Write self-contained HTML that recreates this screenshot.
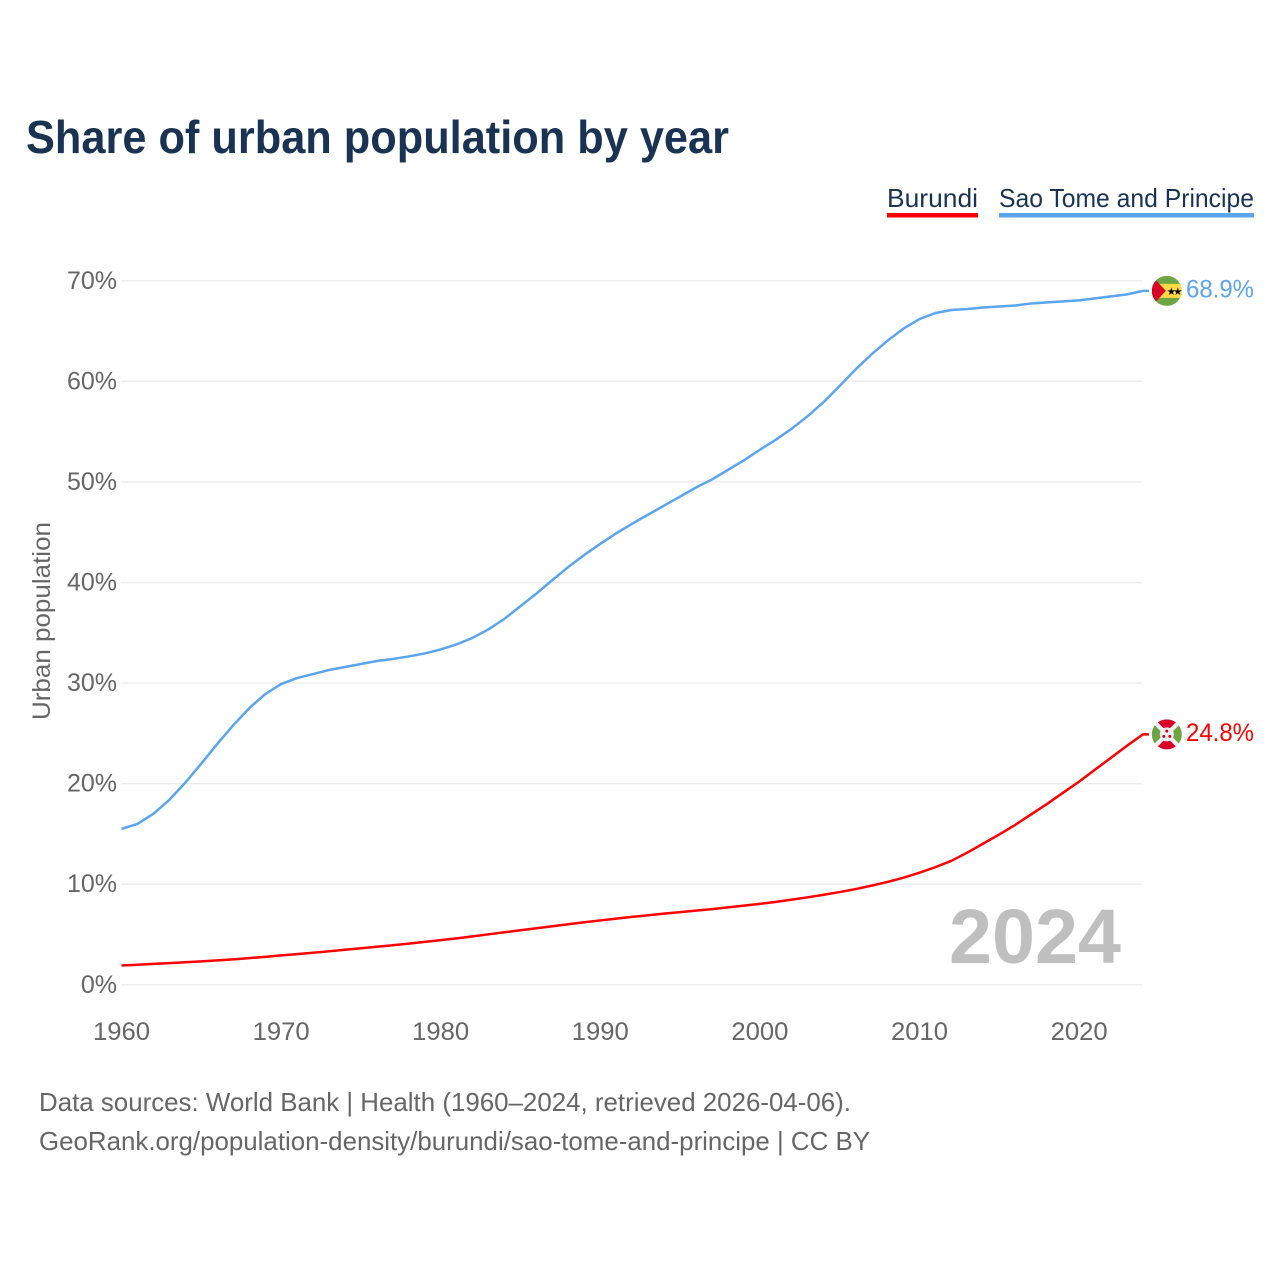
<!DOCTYPE html>
<html lang="en">
<head>
<meta charset="utf-8">
<title>Share of urban population by year</title>
<style>
html,body{margin:0;padding:0;background:#fff;width:1280px;height:1280px;overflow:hidden}
svg{display:block;font-family:"Liberation Sans",sans-serif}
</style>
</head>
<body>
<svg id="chart" xmlns="http://www.w3.org/2000/svg" width="1280" height="1280" viewBox="0 0 1280 1280">
  <rect x="0" y="0" width="1280" height="1280" fill="#ffffff"/>
  <text x="26" y="153" font-size="46" font-weight="700" fill="#1a3352" textLength="703" lengthAdjust="spacingAndGlyphs">Share of urban population by year</text>

  <g>
    <g>
      <text x="887" y="207" font-size="26" fill="#1a3352" textLength="91" lengthAdjust="spacingAndGlyphs">Burundi</text>
      <rect x="887" y="213" width="91" height="4.5" fill="#ff0000"/>
    </g>
    <g>
      <text x="999" y="207" font-size="26" fill="#1a3352" textLength="255" lengthAdjust="spacingAndGlyphs">Sao Tome and Principe</text>
      <rect x="999" y="213" width="255" height="4.5" fill="#5ba4ee"/>
    </g>
  </g>

  <text transform="translate(50 621) rotate(-90)" text-anchor="middle" font-size="25" fill="#666666" textLength="198" lengthAdjust="spacingAndGlyphs">Urban population</text>

  <g id="grid"></g>
  <g id="y-ticks"></g>
  <g id="x-ticks"></g>

  <text x="1121" y="963" text-anchor="end" font-size="77" font-weight="700" fill="#bfbfbf" textLength="172" lengthAdjust="spacingAndGlyphs">2024</text>

  <g id="series"></g>

  <defs>
    <clipPath id="flag-clip"><circle cx="0" cy="0" r="15"/></clipPath>
  </defs>

  <g id="flag-stp">
    <g clip-path="url(#flag-clip)">
      <rect x="-15" y="-15" width="30" height="30" fill="#6da544"/>
      <rect x="-15" y="-7" width="30" height="14" fill="#ffda44"/>
      <polygon points="-15,-15 -1,0 -15,15" fill="#d80027"/>
      <text x="4.5" y="4.2" text-anchor="middle" font-size="10.5" fill="#000000" font-family="'DejaVu Sans',sans-serif">★</text>
      <text x="11" y="4.2" text-anchor="middle" font-size="10.5" fill="#000000" font-family="'DejaVu Sans',sans-serif">★</text>
    </g>
  </g>

  <g id="flag-bdi">
    <g clip-path="url(#flag-clip)">
      <rect x="-15" y="-15" width="30" height="30" fill="#f0f0f0"/>
      <polygon points="-14,-17 14,-17 0,-3" fill="#d80027"/>
      <polygon points="-14,17 14,17 0,3" fill="#d80027"/>
      <polygon points="-17,-14 -17,14 -3,0" fill="#6da544"/>
      <polygon points="17,-14 17,14 3,0" fill="#6da544"/>
      <circle cx="0" cy="0" r="7" fill="#f0f0f0"/>
      <circle cx="0" cy="-3.3" r="1.5" fill="#d80027"/>
      <circle cx="-3" cy="2" r="1.5" fill="#d80027"/>
      <circle cx="3" cy="2" r="1.5" fill="#d80027"/>
    </g>
  </g>

  <g id="value-labels"></g>

  <g>
    <text x="39" y="1111" font-size="26" fill="#666666" textLength="812" lengthAdjust="spacingAndGlyphs">Data sources: World Bank | Health (1960–2024, retrieved 2026-04-06).</text>
    <text x="39" y="1150" font-size="26" fill="#666666" textLength="831" lengthAdjust="spacingAndGlyphs">GeoRank.org/population-density/burundi/sao-tome-and-principe | CC BY</text>
  </g>
</svg>

<script>
var startYear = 1960;
var endYear = 2024;
var yTickValues = [0, 10, 20, 30, 40, 50, 60, 70];
var yTickLabels = ["0%", "10%", "20%", "30%", "40%", "50%", "60%", "70%"];
var xTickValues = [1960, 1970, 1980, 1990, 2000, 2010, 2020];
var xTickLabels = ["1960", "1970", "1980", "1990", "2000", "2010", "2020"];
var saoTomeValues = [15.5, 16.0, 17.0, 18.4, 20.1, 22.0, 23.95, 25.8, 27.5, 28.9,
  29.9, 30.5, 30.9, 31.3, 31.6, 31.9, 32.2, 32.4, 32.65, 32.95,
  33.35, 33.85, 34.5, 35.35, 36.4, 37.65, 38.9, 40.25, 41.55, 42.75,
  43.85, 44.9, 45.85, 46.75, 47.65, 48.55, 49.45, 50.25, 51.2, 52.15,
  53.2, 54.2, 55.3, 56.55, 57.95, 59.55, 61.2, 62.7, 64.05, 65.25,
  66.2, 66.8, 67.1, 67.2, 67.35, 67.45, 67.55, 67.75, 67.85, 67.95,
  68.05, 68.25, 68.45, 68.65, 69.0];
var burundiValues = [1.92, 2.0, 2.08, 2.16, 2.24, 2.33, 2.43, 2.53, 2.65, 2.78,
  2.92, 3.05, 3.19, 3.33, 3.48, 3.63, 3.78, 3.93, 4.1, 4.27,
  4.44, 4.62, 4.82, 5.02, 5.22, 5.42, 5.62, 5.82, 6.02, 6.22,
  6.4, 6.58, 6.75, 6.92, 7.08, 7.23, 7.38, 7.53, 7.7, 7.87,
  8.05, 8.25, 8.47, 8.7, 8.95, 9.22, 9.52, 9.86, 10.23, 10.65,
  11.15, 11.7, 12.33, 13.15, 14.05, 14.95, 15.9, 16.95, 18.0, 19.1,
  20.2, 21.39, 22.58, 23.77, 24.9];
var saoTomeLabel = "68.9%";
var burundiLabel = "24.8%";

var SVG_NS = "http://www.w3.org/2000/svg";
function xScale(year) { return 121.5 + (year - 1960) * 15.96; }
function yScale(pct) { return 984.8 - pct * 10.057; }
function make(tag, parent) {
  var el = document.createElementNS(SVG_NS, tag);
  parent.appendChild(el);
  return el;
}
function linePath(values) {
  var d = "";
  for (var i = 0; i < values.length; i++) {
    d += (i ? "L" : "M") + xScale(startYear + i).toFixed(2) + " " + yScale(values[i]).toFixed(2);
  }
  var last = values[values.length - 1];
  d += "L" + (xScale(endYear) + 6).toFixed(2) + " " + yScale(last).toFixed(2);
  return d;
}

var grid = document.getElementById("grid");
var yTicks = document.getElementById("y-ticks");
yTickValues.forEach(function (v, i) {
  var ln = make("line", grid);
  
  
  ln.setAttribute("x1", xScale(startYear) - 0.5);
  ln.setAttribute("x2", xScale(endYear) - 1);
  ln.setAttribute("y1", yScale(v));
  ln.setAttribute("y2", yScale(v));
  ln.setAttribute("stroke", "#ececec");
  ln.setAttribute("stroke-width", "1.4");
  var t = make("text", yTicks);
  
  
  t.setAttribute("x", 117);
  t.setAttribute("y", yScale(v) + 8);
  t.setAttribute("text-anchor", "end");
  t.setAttribute("font-size", "25");
  t.setAttribute("fill", "#666666");
  t.textContent = yTickLabels[i];
});

var xTicks = document.getElementById("x-ticks");
xTickValues.forEach(function (v, i) {
  var t = make("text", xTicks);
  
  
  t.setAttribute("x", xScale(v));
  t.setAttribute("y", 1040);
  t.setAttribute("text-anchor", "middle");
  t.setAttribute("font-size", "25");
  t.setAttribute("fill", "#666666");
  t.setAttribute("textLength", "57");
  t.setAttribute("lengthAdjust", "spacingAndGlyphs");
  t.textContent = xTickLabels[i];
});

var series = document.getElementById("series");
var burundiLine = make("path", series);


burundiLine.setAttribute("d", linePath(burundiValues));
burundiLine.setAttribute("fill", "none");
burundiLine.setAttribute("stroke", "#ff0000");
burundiLine.setAttribute("stroke-width", "2.5");
burundiLine.setAttribute("stroke-linejoin", "round");

var saoTomeLine = make("path", series);


saoTomeLine.setAttribute("d", linePath(saoTomeValues));
saoTomeLine.setAttribute("fill", "none");
saoTomeLine.setAttribute("stroke", "#5ba4ee");
saoTomeLine.setAttribute("stroke-width", "2.5");
saoTomeLine.setAttribute("stroke-linejoin", "round");

var stpEnd = yScale(saoTomeValues[saoTomeValues.length - 1]);
var bdiEnd = yScale(burundiValues[burundiValues.length - 1]);
document.getElementById("flag-stp").setAttribute("transform", "translate(1166.8 " + stpEnd + ")");
document.getElementById("flag-bdi").setAttribute("transform", "translate(1166.8 " + bdiEnd + ")");

var labels = document.getElementById("value-labels");
var stpLabel = make("text", labels);


stpLabel.setAttribute("x", 1254);
stpLabel.setAttribute("y", stpEnd + 6.5);
stpLabel.setAttribute("text-anchor", "end");
stpLabel.setAttribute("font-size", "25");
stpLabel.setAttribute("fill", "#5ba4ee");
stpLabel.setAttribute("textLength", "68");
stpLabel.setAttribute("lengthAdjust", "spacingAndGlyphs");
stpLabel.textContent = saoTomeLabel;

var bdiLabel = make("text", labels);


bdiLabel.setAttribute("x", 1254);
bdiLabel.setAttribute("y", bdiEnd + 6.5);
bdiLabel.setAttribute("text-anchor", "end");
bdiLabel.setAttribute("font-size", "25");
bdiLabel.setAttribute("fill", "#ff0000");
bdiLabel.setAttribute("textLength", "68");
bdiLabel.setAttribute("lengthAdjust", "spacingAndGlyphs");
bdiLabel.textContent = burundiLabel;
</script>
</body>
</html>
